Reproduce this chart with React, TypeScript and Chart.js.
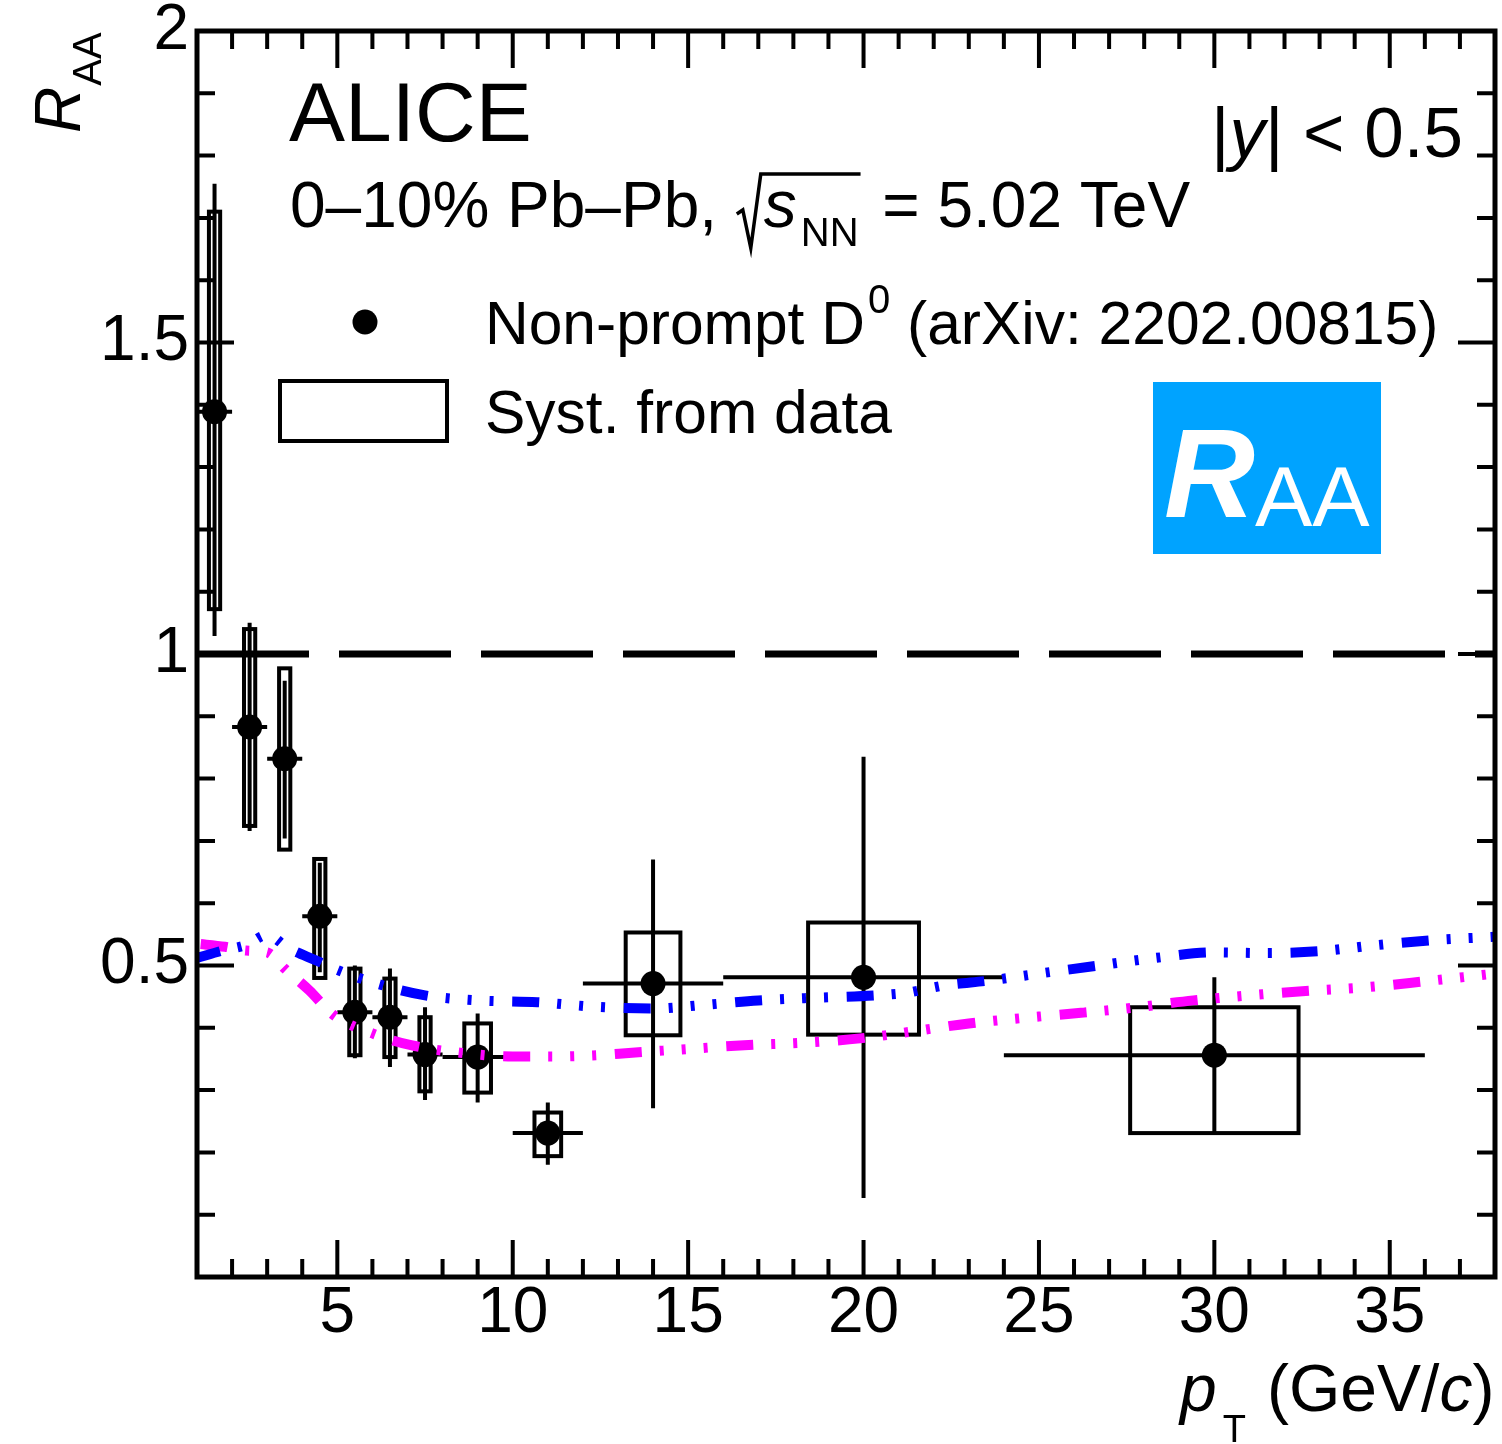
import React, { useEffect, useRef } from 'react';
import { Chart, registerables } from 'chart.js';

Chart.register(...registerables);

const FONT = '"Liberation Sans", Arial, Helvetica, sans-serif';

// ---- Data ----
const PT = [1.5, 2.5, 3.5, 4.5, 5.5, 6.5, 7.5, 9, 11, 14, 20, 30];
const PT_LOW = [1, 2, 3, 4, 5, 6, 7, 8, 10, 12, 16, 24];
const PT_HIGH = [2, 3, 4, 5, 6, 7, 8, 10, 12, 16, 24, 36];
const RAA = [1.389, 0.883, 0.832, 0.579, 0.425, 0.417, 0.357, 0.353, 0.231, 0.471, 0.481, 0.356];
const STAT_UP = [1.755, 1.05, 0.957, 0.665, 0.5, 0.495, 0.433, 0.423, 0.28, 0.67, 0.835, 0.481];
const STAT_DN = [1.029, 0.716, 0.704, 0.489, 0.351, 0.337, 0.284, 0.28, 0.18, 0.271, 0.127, 0.231];
const SYST_UP = [1.71, 1.04, 0.977, 0.671, 0.495, 0.479, 0.417, 0.407, 0.264, 0.553, 0.569, 0.433];
const SYST_DN = [1.072, 0.724, 0.686, 0.48, 0.356, 0.353, 0.298, 0.296, 0.194, 0.388, 0.389, 0.231];
const SYST_XHALF = [0.16, 0.16, 0.16, 0.16, 0.16, 0.16, 0.16, 0.38, 0.38, 0.78, 1.58, 2.4];

const BLUE_X = [1, 1.8, 2.4, 3.0, 3.6, 4.4, 5.0, 6.0, 7.5, 9, 10.7, 12.3, 14, 15.5, 17, 18.5, 20.3, 21.2, 22.3, 23.6, 25, 26.7, 28.3, 30, 31.5, 33, 34.5, 36.3, 38];
const BLUE_Y = [0.512, 0.525, 0.533, 0.549, 0.528, 0.508, 0.493, 0.473, 0.452, 0.444, 0.441, 0.434, 0.431, 0.437, 0.444, 0.448, 0.452, 0.456, 0.468, 0.476, 0.487, 0.5, 0.512, 0.521, 0.52, 0.523, 0.532, 0.541, 0.546];

const MAG_X = [1, 1.8, 2.4, 3.0, 3.5, 4.2, 4.9, 6.0, 7.1, 8.5, 10, 11.2, 12.4, 13.4, 15, 16.6, 18.3, 19.9, 21.5, 23, 24.6, 26.2, 27.8, 29.4, 31, 32.6, 34.3, 35.9, 38];
const MAG_Y = [0.535, 0.53, 0.524, 0.521, 0.495, 0.46, 0.42, 0.391, 0.372, 0.36, 0.354, 0.354, 0.356, 0.36, 0.366, 0.372, 0.376, 0.383, 0.395, 0.407, 0.416, 0.424, 0.433, 0.444, 0.452, 0.459, 0.465, 0.474, 0.487];

const REF_X = [1, 38];
const REF_Y = [1, 1];

const X_TICKS = [5, 10, 15, 20, 25, 30, 35];
const X_TICK_LABELS = ['5', '10', '15', '20', '25', '30', '35'];
const Y_TICKS = [0.5, 1, 1.5, 2];
const Y_TICK_LABELS = ['0.5', '1', '1.5', '2'];

const X_MIN = 1;
const X_MAX = 38;
const Y_MIN = 0;
const Y_MAX = 2;

const CURVE_DASH = [27, 18, 4, 18, 4, 18, 4, 18.7];

function pts(xs: number[], ys: number[]) {
  return xs.map((x, i) => ({ x, y: ys[i] }));
}

function text(ctx: CanvasRenderingContext2D, s: string, x: number, y: number, size: number, italic = false, align: CanvasTextAlign = 'left') {
  ctx.font = `${italic ? 'italic ' : ''}${size}px ${FONT}`;
  ctx.textAlign = align;
  ctx.textBaseline = 'alphabetic';
  ctx.fillStyle = '#000';
  ctx.fillText(s, x, y);
  return ctx.measureText(s).width;
}

const errPlugin = {
  id: 'errs',
  beforeDatasetsDraw(chart: any) {
    const { ctx, scales } = chart;
    const xs = scales.x;
    const ys = scales.y;
    ctx.save();
    ctx.strokeStyle = '#000';
    ctx.lineWidth = 4;
    ctx.lineCap = 'butt';
    PT.forEach((p, i) => {
      const x0 = xs.getPixelForValue(p - SYST_XHALF[i]);
      const x1 = xs.getPixelForValue(p + SYST_XHALF[i]);
      const y0 = ys.getPixelForValue(SYST_UP[i]);
      const y1 = ys.getPixelForValue(SYST_DN[i]);
      ctx.strokeRect(x0, y0, x1 - x0, y1 - y0);
      const px = xs.getPixelForValue(p);
      const py = ys.getPixelForValue(RAA[i]);
      ctx.beginPath();
      ctx.moveTo(px, ys.getPixelForValue(STAT_UP[i]));
      ctx.lineTo(px, ys.getPixelForValue(STAT_DN[i]));
      ctx.moveTo(xs.getPixelForValue(PT_LOW[i]), py);
      ctx.lineTo(xs.getPixelForValue(PT_HIGH[i]), py);
      ctx.stroke();
    });
    ctx.restore();
  },
};

const framePlugin = {
  id: 'frame',
  afterDatasetsDraw(chart: any) {
    const { ctx, chartArea: a, scales } = chart;
    const xs = scales.x;
    const ys = scales.y;
    ctx.save();
    ctx.strokeStyle = '#000';
    ctx.lineCap = 'butt';
    ctx.lineWidth = 4;
    ctx.beginPath();
    const major = 37;
    const minor = 18;
    for (let v = Math.ceil(X_MIN); v <= X_MAX; v += 1) {
      const isMajor = X_TICKS.includes(v);
      const len = isMajor ? major : minor;
      const px = xs.getPixelForValue(v);
      ctx.moveTo(px, a.bottom);
      ctx.lineTo(px, a.bottom - len);
      ctx.moveTo(px, a.top);
      ctx.lineTo(px, a.top + len);
    }
    for (let k = 1; k < 20; k++) {
      const v = k / 10;
      const isMajor = k % 5 === 0;
      const len = isMajor ? major : minor;
      const py = ys.getPixelForValue(v);
      ctx.moveTo(a.left, py);
      ctx.lineTo(a.left + len, py);
      ctx.moveTo(a.right, py);
      ctx.lineTo(a.right - len, py);
    }
    ctx.stroke();
    ctx.lineWidth = 5;
    ctx.strokeRect(a.left, a.top, a.right - a.left, a.bottom - a.top);
    ctx.restore();
  },
};

const textPlugin = {
  id: 'texts',
  afterDraw(chart: any) {
    const { ctx } = chart;
    ctx.save();
    // ALICE
    text(ctx, 'ALICE', 289, 141, 84);
    // system line
    let x = 290;
    x += text(ctx, '0\u201310% Pb\u2013Pb, ', x, 227, 64);
    x += 2;
    // radical
    ctx.strokeStyle = '#000';
    ctx.lineWidth = 3.5;
    ctx.lineJoin = 'miter';
    const sStart = x + 27;
    ctx.font = `italic 66px ${FONT}`;
    const sW = ctx.measureText('s').width;
    ctx.font = `40px ${FONT}`;
    const nnW = ctx.measureText('NN').width;
    ctx.beginPath();
    ctx.moveTo(x, 214);
    ctx.lineTo(x + 6, 210);
    ctx.lineTo(x + 14, 248);
    ctx.lineTo(x + 24, 174);
    ctx.lineTo(sStart + sW + nnW + 6, 174);
    ctx.stroke();
    text(ctx, 's', sStart, 227, 66, true);
    text(ctx, 'NN', sStart + sW + 4, 246, 40);
    x = sStart + sW + nnW + 10;
    text(ctx, ' = 5.02 TeV', x, 227, 64);

    // |y| < 0.5
    let xr = 1211;
    xr += text(ctx, '|', xr, 157, 71);
    xr += text(ctx, 'y', xr, 157, 71, true);
    text(ctx, '| < 0.5', xr, 157, 71);

    // legend
    ctx.fillStyle = '#000';
    ctx.beginPath();
    ctx.arc(365, 322, 12.5, 0, Math.PI * 2);
    ctx.fill();
    let lx = 485;
    lx += text(ctx, 'Non-prompt D', lx, 344, 60.5);
    lx += text(ctx, '0', lx + 3, 313, 40) + 3;
    text(ctx, ' (arXiv: 2202.00815)', lx, 344, 60.5);
    ctx.lineWidth = 4;
    ctx.strokeStyle = '#000';
    ctx.strokeRect(280, 381, 167, 60);
    text(ctx, 'Syst. from data', 485, 433, 60.5);

    // RAA logo
    ctx.fillStyle = '#00A3FF';
    ctx.fillRect(1153, 382, 228, 172);
    ctx.fillStyle = '#fff';
    ctx.textAlign = 'left';
    ctx.textBaseline = 'alphabetic';
    ctx.font = `italic bold 126px ${FONT}`;
    ctx.fillText('R', 1164, 517);
    ctx.font = `86px ${FONT}`;
    ctx.fillText('AA', 1255, 526);

    // y title (rotated)
    ctx.save();
    ctx.translate(80, 133);
    ctx.rotate(-Math.PI / 2);
    const rW = text(ctx, 'R', 0, 0, 64, true);
    text(ctx, 'AA', rW + 1, 21, 40);
    ctx.restore();

    // x title
    let tx = 1180;
    const pW = text(ctx, 'p', tx, 1411, 66, true);
    text(ctx, 'T', tx + pW + 6, 1442, 38);
    tx = 1267;
    tx += text(ctx, '(GeV/', tx, 1411, 66);
    tx += text(ctx, 'c', tx, 1411, 66, true);
    text(ctx, ')', tx, 1411, 66);

    ctx.restore();
  },
};

export default function App() {
  const ref = useRef<HTMLCanvasElement | null>(null);
  useEffect(() => {
    document.body.style.margin = '0';
    document.body.style.overflow = 'hidden';
    const canvas = ref.current;
    if (!canvas) return;
    const chart = new Chart(canvas, {
      type: 'line',
      data: {
        datasets: [
          {
            label: 'blue',
            data: pts(BLUE_X, BLUE_Y),
            borderColor: '#0000FF',
            borderWidth: 10,
            borderDash: CURVE_DASH,
            borderDashOffset: 3,
            borderCapStyle: 'butt',
            pointRadius: 0,
            cubicInterpolationMode: 'monotone',
            fill: false,
            order: 1,
          },
          {
            label: 'magenta',
            data: pts(MAG_X, MAG_Y),
            borderColor: '#FF00FF',
            borderWidth: 10,
            borderDash: CURVE_DASH,
            borderDashOffset: 108,
            borderCapStyle: 'butt',
            pointRadius: 0,
            cubicInterpolationMode: 'monotone',
            fill: false,
            order: 1,
          },
          {
            label: 'data',
            data: pts(PT, RAA),
            showLine: false,
            pointRadius: 12.5,
            pointBackgroundColor: '#000',
            pointBorderWidth: 0,
            borderColor: '#000',
            order: 2,
          },
          {
            label: 'ref',
            data: pts(REF_X, REF_Y),
            borderColor: '#000',
            borderWidth: 7,
            borderDash: [112, 30],
            borderCapStyle: 'butt',
            pointRadius: 0,
            tension: 0,
            fill: false,
            order: 5,
          },
        ] as any,
      },
      options: {
        responsive: false,
        maintainAspectRatio: false,
        animation: false,
        devicePixelRatio: 1,
        layout: { autoPadding: false, padding: { top: 31, right: 7, left: 0, bottom: 0 } },
        plugins: { legend: { display: false }, tooltip: { enabled: false } },
        scales: {
          x: {
            type: 'linear',
            min: X_MIN,
            max: X_MAX,
            afterBuildTicks: (s: any) => {
              s.ticks = X_TICKS.map((v) => ({ value: v }));
            },
            afterFit: (s: any) => {
              s.height = 167;
              s.paddingLeft = 0;
              s.paddingRight = 0;
              s.paddingTop = 0;
              s.paddingBottom = 0;
            },
            ticks: {
              color: '#000',
              font: { family: FONT, size: 64, lineHeight: 1 },
              padding: 5,
              maxRotation: 0,
              minRotation: 0,
              autoSkip: false,
              callback: (v: any) => X_TICK_LABELS[X_TICKS.indexOf(Number(v))] ?? '',
            },
            grid: { display: false, drawTicks: false },
            border: { display: false },
          },
          y: {
            type: 'linear',
            min: Y_MIN,
            max: Y_MAX,
            afterBuildTicks: (s: any) => {
              s.ticks = Y_TICKS.map((v) => ({ value: v }));
            },
            afterFit: (s: any) => {
              s.width = 197;
              s.paddingLeft = 0;
              s.paddingRight = 0;
              s.paddingTop = 0;
              s.paddingBottom = 0;
            },
            ticks: {
              color: '#000',
              font: { family: FONT, size: 64, lineHeight: 0.8 },
              padding: 8,
              autoSkip: false,
              callback: (v: any) => Y_TICK_LABELS[Y_TICKS.indexOf(Number(v))] ?? '',
            },
            grid: { display: false, drawTicks: false },
            border: { display: false },
          },
        },
      } as any,
      plugins: [errPlugin, framePlugin, textPlugin],
    });
    return () => chart.destroy();
  }, []);
  return <canvas ref={ref} width={1502} height={1444} style={{ display: 'block', width: 1502, height: 1444 }} />;
}
